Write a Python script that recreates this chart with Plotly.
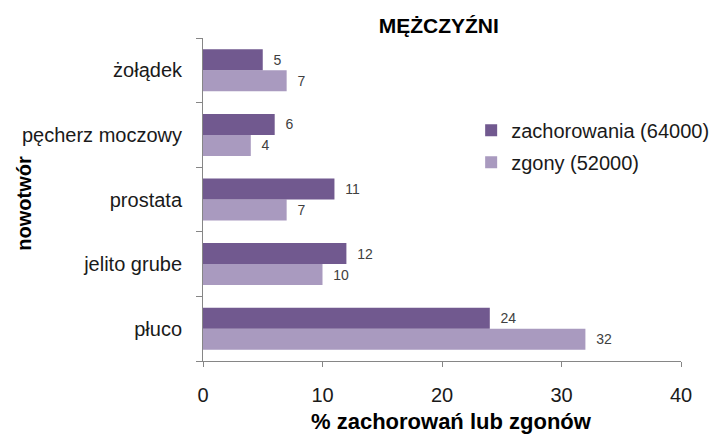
import plotly.graph_objects as go

categories = ["płuco", "jelito grube", "prostata", "pęcherz moczowy", "żołądek"]
zachorowania = [24, 12, 11, 6, 5]
zgony = [32, 10, 7, 4, 7]
series_names = ["zachorowania (64000)", "zgony (52000)"]
x_ticks = [0, 10, 20, 30, 40]

DARK = "#71598F"
LIGHT = "#A99ABF"
FONT = "Liberation Sans, Arial, sans-serif"

fig = go.Figure()
fig.add_trace(go.Bar(
    y=categories, x=zgony, orientation="h", name=series_names[1],
    marker=dict(color=LIGHT, line=dict(width=0)),
    text=zgony, texttemplate="  %{x}", textposition="outside",
    textfont=dict(size=14, color="#404040", family=FONT),
    cliponaxis=False, legendgroup="b", legendrank=2,
))
fig.add_trace(go.Bar(
    y=categories, x=zachorowania, orientation="h", name=series_names[0],
    marker=dict(color=DARK, line=dict(width=0)),
    text=zachorowania, texttemplate="  %{x}", textposition="outside",
    textfont=dict(size=14, color="#404040", family=FONT),
    cliponaxis=False, legendgroup="a", legendrank=1,
))

fig.update_layout(
    width=717, height=434,
    margin=dict(l=203, r=36, t=38, b=73, autoexpand=False),
    paper_bgcolor="white", plot_bgcolor="white",
    font=dict(family=FONT, color="#1a1a1a"),
    barmode="group", bargap=0.35, bargroupgap=0,
    title=dict(text="<b>MĘŻCZYŹNI</b>", x=0.612, xanchor="center", y=0.942, yanchor="middle",
               font=dict(size=21, family=FONT, color="#000000")),
    legend=dict(x=0.561, xanchor="left", y=0.775, yanchor="top",
                font=dict(size=20, family=FONT, color="#1a1a1a"),
                tracegroupgap=3, itemwidth=30, bgcolor="rgba(0,0,0,0)"),
    xaxis=dict(range=[0, 40], tickvals=x_ticks, showgrid=False, zeroline=False,
               showline=True, linecolor="#868686", linewidth=1,
               ticks="outside", ticklen=5, tickcolor="#868686",
               tickfont=dict(size=20, family=FONT, color="#1a1a1a"),
               ticklabelstandoff=11, automargin=False),
    yaxis=dict(showgrid=False, zeroline=False, showline=True, linecolor="#868686", linewidth=1,
               ticks="outside", ticklen=6, tickcolor="#868686", tickson="boundaries",
               tickfont=dict(size=20, family=FONT, color="#1a1a1a"),
               ticklabelstandoff=16, automargin=False),
    annotations=[
        dict(text="<b>% zachorowań lub zgonów</b>", xref="paper", yref="paper",
             x=0.519, y=-0.186, xanchor="center", yanchor="middle", showarrow=False,
             font=dict(size=22, family=FONT, color="#000000")),
        dict(text="<b>nowotwór</b>", xref="paper", yref="paper",
             x=-0.3745, y=0.49, xanchor="center", yanchor="middle", showarrow=False,
             textangle=-90, font=dict(size=20, family=FONT, color="#000000")),
    ],
)

fig.write_html("out.html", config={"displayModeBar": False},
               post_script="document.body.style.margin='0';")
